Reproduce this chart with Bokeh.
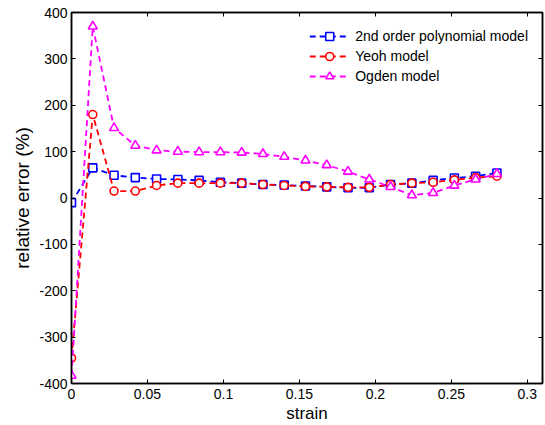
from bokeh.plotting import figure
from bokeh.models import Range1d, LinearAxis, FixedTicker, Legend, LegendItem
from bokeh.embed import file_html
from bokeh.resources import INLINE

# ---- data ----
strain = [0.000, 0.014, 0.028, 0.042, 0.056, 0.070, 0.084, 0.098, 0.112, 0.126,
          0.140, 0.154, 0.168, 0.182, 0.196, 0.210, 0.224, 0.238, 0.252, 0.266, 0.280]
poly_err = [-10, 65, 49, 44, 41, 40, 38, 34, 32, 29, 28, 26, 24, 22, 22, 29, 32, 38, 43, 47, 54]
yeoh_err = [-345, 180, 15, 15, 27, 32, 32, 32, 32, 29, 27, 25, 24, 23, 23, 29, 32, 34, 39, 44, 47]
ogden_err = [-383, 370, 151, 113, 103, 100, 99, 99, 98, 95, 89, 81, 71, 57, 40, 24, 6, 11, 27, 40, 52]

series_names = ["2nd order polynomial model", "Yeoh model", "Ogden model"]
series_colors = ["#0000FF", "#FF0000", "#FF00FF"]
series_markers = ["square", "circle", "triangle"]

x_ticks = [0, 0.05, 0.1, 0.15, 0.2, 0.25, 0.3]
x_tick_labels = ["0", "0.05", "0.1", "0.15", "0.2", "0.25", "0.3"]
y_ticks = [-400, -300, -200, -100, 0, 100, 200, 300, 400]
y_tick_labels = ["-400", "-300", "-200", "-100", "0", "100", "200", "300", "400"]

FONT = "Liberation Sans"

p = figure(width=545, height=425, output_backend="svg", toolbar_location=None,
           x_range=Range1d(0, 0.31), y_range=Range1d(-400, 400),
           min_border_left=71, min_border_top=12, min_border_right=3, min_border_bottom=42)
p.xgrid.visible = False
p.ygrid.visible = False
p.outline_line_color = "black"
p.outline_line_width = 1.5
p.outline_line_alpha = 1.0
p.background_fill_color = "white"

def style_axis(ax, ticks, labels, show_labels=True):
    ax.ticker = FixedTicker(ticks=ticks, minor_ticks=[])
    ax.major_tick_in = 4
    ax.major_tick_out = 0
    ax.minor_tick_in = 0
    ax.minor_tick_out = 0
    ax.major_tick_line_color = "black"
    ax.axis_line_color = "black"
    ax.axis_line_width = 1.5
    ax.major_label_text_font = FONT
    ax.major_label_text_color = "black"
    if show_labels:
        ax.major_label_overrides = {t: l for t, l in zip(ticks, labels)}
        ax.major_label_text_font_size = "14px"
        ax.major_label_standoff = 4
    else:
        ax.major_label_overrides = {t: "" for t in ticks}
        ax.major_label_text_font_size = "0px"
        ax.major_label_standoff = 0

style_axis(p.xaxis[0], x_ticks, x_tick_labels)
style_axis(p.yaxis[0], y_ticks, y_tick_labels)
p.xaxis[0].axis_label = "strain"
p.yaxis[0].axis_label = "relative error (%)"
for ax in (p.xaxis[0], p.yaxis[0]):
    ax.axis_label_text_font = FONT
    ax.axis_label_text_font_style = "normal"
    ax.axis_label_text_color = "black"
p.xaxis[0].axis_label_text_font_size = "17px"
p.xaxis[0].axis_label_standoff = 2
p.xaxis[0].major_label_standoff = 5
p.yaxis[0].axis_label_text_font_size = "19px"
p.yaxis[0].axis_label_standoff = 3

top_ax = LinearAxis()
style_axis(top_ax, x_ticks, x_tick_labels, show_labels=False)
p.add_layout(top_ax, "above")
right_ax = LinearAxis()
style_axis(right_ax, y_ticks, y_tick_labels, show_labels=False)
p.add_layout(right_ax, "right")

items = []
for name, ys, col, mk in zip(series_names, [poly_err, yeoh_err, ogden_err], series_colors, series_markers):
    lr = p.line(strain, ys, line_color=col, line_width=1.8, line_dash="6 4")
    size = 9 if mk == "triangle" else 8
    sr = p.scatter(strain, ys, marker=mk, size=size, line_color=col, line_width=1.6,
                   fill_color="white")
    items.append(LegendItem(label=name, renderers=[lr, sr]))

legend = Legend(items=items, location="top_right",
                label_text_font=FONT, label_text_font_size="14px", label_text_color="black",
                glyph_width=40, glyph_height=20, label_height=20, spacing=0,
                label_standoff=6, padding=8, margin=6,
                border_line_alpha=0, background_fill_color="white", background_fill_alpha=1)
p.add_layout(legend)

open("out.html", "w").write(file_html(p, INLINE))
